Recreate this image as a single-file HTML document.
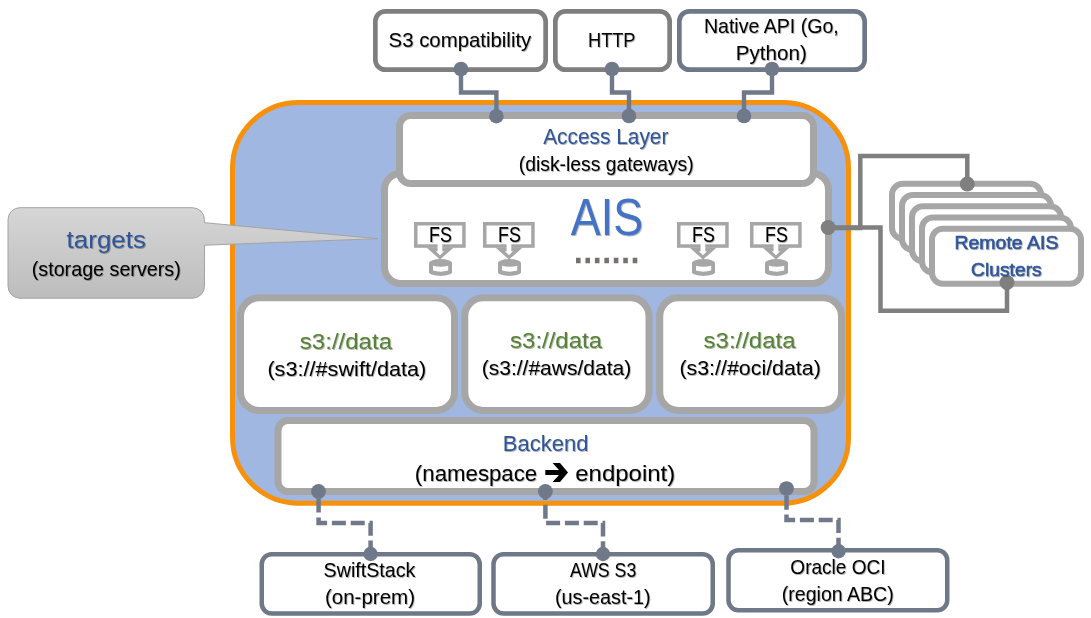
<!DOCTYPE html>
<html><head><meta charset="utf-8">
<style>
html,body{margin:0;padding:0;background:#fff;}
body{width:1091px;height:618px;overflow:hidden;font-family:"Liberation Sans",sans-serif;}
svg{display:block;}
text{font-family:"Liberation Sans",sans-serif;}
.b{fill:#000;}
.h{fill:#2f5597;}
.g{fill:#548235;}
.rb{fill:#2f5597;stroke:#2f5597;stroke-width:0.55;}
.a{fill:#4472c4;}
</style></head><body>
<svg width="1091" height="618" viewBox="0 0 1091 618">
<defs>
<linearGradient id="cg" x1="0" y1="0" x2="0" y2="1"><stop offset="0" stop-color="#d6d6d6"/><stop offset="1" stop-color="#bdbdbd"/></linearGradient>
<filter id="ts" x="-5%" y="-20%" width="110%" height="150%"><feDropShadow dx="0.8" dy="0.9" stdDeviation="0.6" flood-color="#000" flood-opacity="0.35"/></filter>
<g id="fs">
  <rect x="1.75" y="1.75" width="48.2" height="22.3" fill="#fff" stroke="#a6a6a6" stroke-width="3.5"/>
  <path d="M12.5,25.6 L39.7,25.6 L26,37.6 Z" fill="#a6a6a6"/>
  <path d="M23.6,22 L28.3,22 L28.3,29.3 L30,29.3 L26,33.2 L21.9,29.3 L23.6,29.3 Z" fill="#fff"/>
  <path d="M15,40.8 A11.5,3.7 0 0 1 38,40.8 L38,50.2 A11.5,3.7 0 0 1 15,50.2 Z" fill="#a6a6a6"/>
  <path d="M19,43.7 Q26.5,45.6 34.2,43.7 L34.2,48.6 Q26.5,50.8 19,48.6 Z" fill="#fff"/>
</g>
</defs>
<rect width="1091" height="618" fill="#fff"/>

<!-- outer cluster -->
<rect x="232.5" y="102.5" width="616" height="400.7" rx="66" ry="66" fill="#a0b7e2" stroke="#f7900a" stroke-width="5"/>

<!-- AIS targets box -->
<rect x="384.5" y="173.3" width="444" height="110.2" rx="16.5" ry="16.5" fill="#fff" stroke="#a6a6a6" stroke-width="7"/>
<!-- Access layer -->
<rect x="399.5" y="115.5" width="414" height="68" rx="11" ry="11" fill="#fff" stroke="#a6a6a6" stroke-width="7"/>

<!-- s3 boxes -->
<rect x="240.5" y="297.75" width="214" height="112.75" rx="18.5" ry="18.5" fill="#fff" stroke="#a6a6a6" stroke-width="7"/>
<rect x="464.75" y="297.75" width="184.25" height="112.75" rx="18.5" ry="18.5" fill="#fff" stroke="#a6a6a6" stroke-width="7"/>
<rect x="659.75" y="297.75" width="181.75" height="112.75" rx="18.5" ry="18.5" fill="#fff" stroke="#a6a6a6" stroke-width="7"/>
<!-- backend -->
<rect x="278" y="420.5" width="536" height="71" rx="10" ry="10" fill="#fff" stroke="#a6a6a6" stroke-width="7"/>

<!-- callout -->
<path d="M20,207 L192.5,207 A12,12 0 0 1 204.5,219 L204.5,222 L378,238 L204.5,244.5 L204.5,285.5 A12,12 0 0 1 192.5,297.5 L20,297.5 A12,12 0 0 1 8,285.5 L8,219 A12,12 0 0 1 20,207 Z" fill="url(#cg)" stroke="#a3a3a3" stroke-width="1" transform="translate(0,0.7)"/>

<!-- top boxes -->
<rect x="375.35" y="11.35" width="170.3" height="58.3" rx="10" ry="10" fill="#fff" stroke="#7f7f7f" stroke-width="4.7"/>
<rect x="555.35" y="11.35" width="114.3" height="58.3" rx="10" ry="10" fill="#fff" stroke="#7f7f7f" stroke-width="4.7"/>
<rect x="679.35" y="11.35" width="185.3" height="58.3" rx="10" ry="10" fill="#fff" stroke="#6f7888" stroke-width="4.7"/>

<!-- top connectors -->
<g fill="none" stroke="#707989" stroke-width="4.4" stroke-linejoin="miter">
<path d="M461,69 L461,92.5 L496.4,92.5 L496.4,116"/>
<path d="M612,69 L612,92.5 L629,92.5 L629,116"/>
<path d="M772,69 L772,92.5 L744,92.5 L744,116"/>
</g>
<g fill="#707989">
<circle cx="461" cy="69" r="7.3"/><circle cx="496.4" cy="116.2" r="7.3"/>
<circle cx="612" cy="69" r="7.3"/><circle cx="629" cy="116" r="7.3"/>
<circle cx="772" cy="69" r="7.3"/><circle cx="744" cy="116" r="7.3"/>
</g>

<!-- remote connectors -->
<g fill="none" stroke="#7f7f7f" stroke-width="4.5">
<path d="M828,228 L860.3,228 L860.3,156 L967.3,156 L967.3,184"/>
<path d="M828,227.4 L880.5,227.4 L880.5,310.7 L1007,310.7 L1007,283"/>
</g>
<!-- remote stack -->
<g fill="#fff" stroke="#a6a6a6" stroke-width="6">
<rect x="892" y="183.75" width="149" height="55" rx="11" ry="11"/>
<rect x="902" y="195" width="149" height="55" rx="11" ry="11"/>
<rect x="912" y="206.25" width="149" height="55" rx="11" ry="11"/>
<rect x="922" y="217.5" width="149" height="55" rx="11" ry="11"/>
<rect x="932" y="228.75" width="149" height="55" rx="11" ry="11"/>
</g>
<g fill="#7f7f7f">
<circle cx="828.2" cy="227.5" r="7.5"/>
<circle cx="967.3" cy="184" r="7.5"/>
<circle cx="1007" cy="282.5" r="7.5"/>
</g>

<!-- FS icons -->
<use href="#fs" x="414" y="222"/>
<use href="#fs" x="483" y="222"/>
<use href="#fs" x="677" y="222"/>
<use href="#fs" x="750" y="222"/>
<!-- dots -->
<path d="M576,260.5 L637.5,260.5" stroke="#767171" stroke-width="5.5" stroke-dasharray="4.6 4.85" fill="none"/>

<!-- bottom boxes -->
<g fill="#fff" stroke="#6f7888" stroke-width="4.5">
<rect x="261.75" y="554.25" width="218" height="59.25" rx="10" ry="10"/>
<rect x="493.5" y="554.25" width="219.25" height="59.25" rx="10" ry="10"/>
<rect x="728.5" y="550.25" width="218.75" height="60" rx="10" ry="10"/>
</g>
<!-- dashed connectors -->
<g fill="none" stroke="#707989" stroke-width="4.5" stroke-dasharray="14 4.8">
<path d="M318.6,491.4 L318.6,522.9 L370.6,522.9 L370.6,554" stroke-dashoffset="11.6"/>
<path d="M545.4,491.4 L545.4,522.9 L603,522.9 L603,554" stroke-dashoffset="5.4"/>
<path d="M786.5,488.6 L786.5,520 L838.5,520 L838.5,551" stroke-dashoffset="11.6"/>
</g>
<g fill="#707989">
<circle cx="318.5" cy="491.4" r="7.4"/><circle cx="370.6" cy="554" r="7.2"/>
<circle cx="545.4" cy="491.4" r="7.4"/><circle cx="603" cy="554" r="7.2"/>
<circle cx="786.5" cy="488.6" r="7.4"/><circle cx="838.6" cy="551.2" r="7.2"/>
</g>

<!-- arrow -->
<path d="M545.3,470 L559,470 L552.6,463 L560,463 L568,472.5 L560,482 L552.6,482 L559,475 L545.3,475 Z" fill="#000"/>

<!-- text -->
<g filter="url(#ts)">
<text class="b" x="388.57" y="46.75" font-size="20.3" textLength="142.72" lengthAdjust="spacingAndGlyphs">S3 compatibility</text>
<text class="b" x="588.01" y="46.75" font-size="20.3" textLength="47.45" lengthAdjust="spacingAndGlyphs">HTTP</text>
<text class="b" x="703.91" y="33.25" font-size="20.3" textLength="134.84" lengthAdjust="spacingAndGlyphs">Native API (Go,</text>
<text class="b" x="735.81" y="60" font-size="20.3" textLength="70.97" lengthAdjust="spacingAndGlyphs">Python)</text>
<text class="h" x="543.21" y="143.75" font-size="22.8" textLength="125.14" lengthAdjust="spacingAndGlyphs">Access Layer</text>
<text class="b" x="518.80" y="171" font-size="20.3" textLength="174.89" lengthAdjust="spacingAndGlyphs">(disk-less gateways)</text>
<text class="a" x="570.71" y="235" font-size="52" textLength="72.55" lengthAdjust="spacingAndGlyphs">AIS</text>
<text class="b" x="429.04" y="242.3" font-size="21.3" textLength="22.78" lengthAdjust="spacingAndGlyphs">FS</text>
<text class="b" x="498.04" y="242.3" font-size="21.3" textLength="22.78" lengthAdjust="spacingAndGlyphs">FS</text>
<text class="b" x="692.04" y="242.3" font-size="21.3" textLength="22.78" lengthAdjust="spacingAndGlyphs">FS</text>
<text class="b" x="765.04" y="242.3" font-size="21.3" textLength="22.78" lengthAdjust="spacingAndGlyphs">FS</text>
<text class="h" x="66.61" y="248" font-size="24.4" textLength="79.33" lengthAdjust="spacingAndGlyphs">targets</text>
<text class="b" x="31.78" y="276" font-size="20.3" textLength="148.94" lengthAdjust="spacingAndGlyphs">(storage servers)</text>
<text class="g" x="299.83" y="348.5" font-size="22.8" textLength="92.17" lengthAdjust="spacingAndGlyphs">s3://data</text>
<text class="g" x="510.08" y="347.75" font-size="22.8" textLength="91.92" lengthAdjust="spacingAndGlyphs">s3://data</text>
<text class="g" x="703.58" y="347.75" font-size="22.8" textLength="91.92" lengthAdjust="spacingAndGlyphs">s3://data</text>
<text class="b" x="267.41" y="375.5" font-size="20.3" textLength="158.94" lengthAdjust="spacingAndGlyphs">(s3://#swift/data)</text>
<text class="b" x="481.70" y="375" font-size="20.3" textLength="149.61" lengthAdjust="spacingAndGlyphs">(s3://#aws/data)</text>
<text class="b" x="679.42" y="375" font-size="20.3" textLength="141.40" lengthAdjust="spacingAndGlyphs">(s3://#oci/data)</text>
<text class="h" x="502.69" y="451.25" font-size="22.8" textLength="85.73" lengthAdjust="spacingAndGlyphs">Backend</text>
<text class="b" x="414.87" y="480.5" font-size="22.8" textLength="122.37" lengthAdjust="spacingAndGlyphs">(namespace</text>
<text class="b" x="575.23" y="480.5" font-size="22.8" textLength="100.01" lengthAdjust="spacingAndGlyphs">endpoint)</text>
<text class="rb" x="954.42" y="249.25" font-size="18" textLength="103.97" lengthAdjust="spacingAndGlyphs">Remote AIS</text>
<text class="rb" x="971.02" y="275.75" font-size="18" textLength="70.67" lengthAdjust="spacingAndGlyphs">Clusters</text>
<text class="b" x="323.61" y="577" font-size="20.3" textLength="91.86" lengthAdjust="spacingAndGlyphs">SwiftStack</text>
<text class="b" x="324.98" y="603.75" font-size="20.3" textLength="90.04" lengthAdjust="spacingAndGlyphs">(on-prem)</text>
<text class="b" x="569.97" y="577" font-size="20.3" textLength="66.31" lengthAdjust="spacingAndGlyphs">AWS S3</text>
<text class="b" x="555.02" y="603.75" font-size="20.3" textLength="95.71" lengthAdjust="spacingAndGlyphs">(us-east-1)</text>
<text class="b" x="790.35" y="573.75" font-size="20.3" textLength="95.16" lengthAdjust="spacingAndGlyphs">Oracle OCI</text>
<text class="b" x="781.80" y="600.75" font-size="20.3" textLength="111.90" lengthAdjust="spacingAndGlyphs">(region ABC)</text>
</g>
</svg>
</body></html>
